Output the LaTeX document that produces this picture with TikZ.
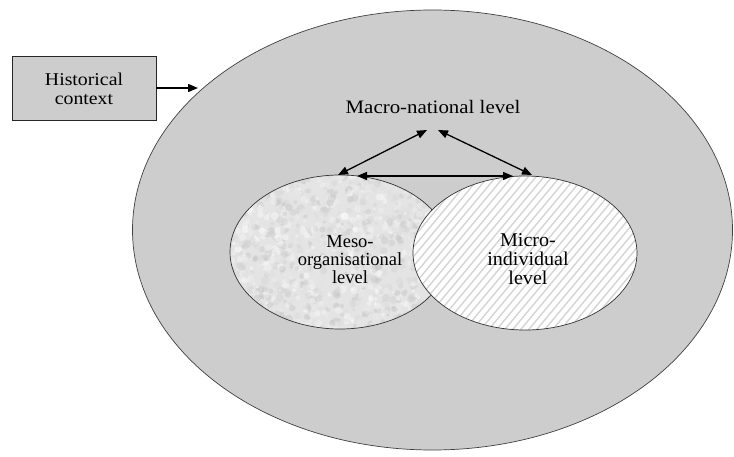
\documentclass[tikz,border=0pt]{standalone}
\usepackage{fontspec}
\setmainfont{Liberation Serif}
\usetikzlibrary{arrows.meta,shapes.geometric}
\definecolor{ctxgray}{RGB}{205,205,205}
\definecolor{hatchgray}{RGB}{212,212,212}
\definecolor{mesobase}{RGB}{228,228,228}
\newcommand\levellabel[3]{\scalebox{#1}[1]{\fontsize{#2}{18}\selectfont\begin{tabular}{@{}c@{}}#3\end{tabular}}}
\begin{document}
\begin{tikzpicture}[x=1pt,y=-1pt,
  outerring/.style={ellipse, draw=black!75, line width=0.7pt, fill=ctxgray,
    minimum width=600pt, minimum height=440pt, inner sep=0pt},
  histbox/.style={draw=black!85, line width=0.8pt, fill=ctxgray,
    minimum width=144pt, minimum height=64pt, inner sep=0pt},
  levelrim/.style={draw=black!80, line width=0.7pt},
  hatchline/.style={draw=hatchgray, line width=1.4pt},
  oneway/.style={-{Triangle[length=10pt,width=8pt]}, line width=1.3pt},
  twoway/.style={{Triangle[length=10pt,width=8pt]}-{Triangle[length=10pt,width=8pt]}, line width=1.3pt},
  txt/.style={inner sep=0pt, text=black}]
\useasboundingbox (0,0) rectangle (734,457);
\fill[white] (0,0) rectangle (734,457);

% outer historical setting
\node[outerring] (ring) at (432.5,230) {};

% historical context box and its arrow into the ring
\node[histbox] (hist) at (84,88) {};
\node[txt] (histtxt) at (84,91) {\scalebox{1.1}[1]{\fontsize{18}{19}\selectfont\begin{tabular}{@{}c@{}}Historical\\context\end{tabular}}};
\coordinate (entry) at (198,88);
\draw[oneway] (hist.east) -- (entry);

% meso level: mottled fill
\begin{scope}
  \clip (340,252) ellipse [x radius=110pt, y radius=77pt];
  \fill[mesobase] (228,172) rectangle (452,332);
  \pgfmathsetseed{42}
  \foreach \k in {1,...,1600}{
    \pgfmathsetmacro{\px}{228+224*rnd}
    \pgfmathsetmacro{\py}{172+160*rnd}
    \pgfmathsetmacro{\pr}{1.4+2.6*rnd}
    \pgfmathsetmacro{\pg}{int(24*rnd)}
    \fill[black!\pg, opacity=0.45] (\px,\py) circle [radius=\pr pt];
  }
\end{scope}
\draw[levelrim] (340,252) ellipse [x radius=110pt, y radius=77pt];

% micro level: diagonal hatching
\begin{scope}
  \clip (525,253) ellipse [x radius=112pt, y radius=77pt];
  \fill[white] (410,172) rectangle (640,334);
  \foreach \d in {-200,-192,...,240}
    \draw[hatchline] (413+\d,334) -- ++(140,-168);
\end{scope}
\draw[levelrim] (525,253) ellipse [x radius=112pt, y radius=77pt];

% level labels
\node[txt] (macro) at (433,110) {\levellabel{1.1}{19}{Macro-national level}};
\node[txt] (meso) at (350,262) {\levellabel{1.0}{18.5}{Meso-\\organisational\\level}};
\node[txt] (micro) at (528,262) {\levellabel{1.03}{19.5}{Micro-\\individual\\level}};

% connector end points
\coordinate (macroL) at (427,130);
\coordinate (macroR) at (438,130);
\coordinate (mesoTop) at (338,175);
\coordinate (mesoTopR) at (357,176);
\coordinate (microTopL) at (513,176);
\coordinate (microTop) at (532,175);

\draw[twoway] (macroL) -- (mesoTop);
\draw[twoway] (macroR) -- (microTop);
\draw[twoway] (mesoTopR) -- (microTopL);
\end{tikzpicture}
\end{document}
